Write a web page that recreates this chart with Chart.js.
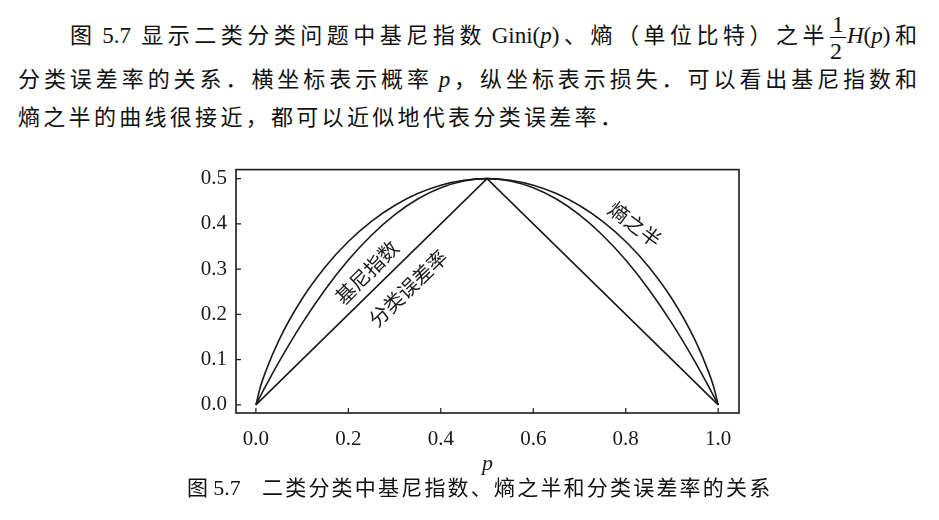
<!DOCTYPE html>
<html>
<head>
<meta charset="utf-8">
<script src="https://cdn.jsdelivr.net/npm/chart.js@4.4.1/dist/chart.umd.min.js"></script>
<style>
  body { margin: 0; background: #fff; width: 939px; height: 520px; overflow: hidden; position: relative; }
  .txt { position: absolute; font-family: "Liberation Serif", "Noto Sans CJK SC", serif; font-size: 22px; color: #111; white-space: nowrap; }
  .just { text-align: justify; text-align-last: justify; text-justify: inter-character; }
  .lat { display: inline-block; font-size: 23px; }
  .frac { display: inline-block; vertical-align: middle; text-align: center; line-height: 1; font-size: 24px; margin: 0 1px; }
  .frac span { display: block; }
  .frac .num { border-bottom: 1.5px solid #111; padding: 0 2px 1px; }
  .frac .den { padding-top: 1px; }
  #wrap { position: absolute; left: 160px; top: 148px; width: 600px; height: 347px; }
</style>
</head>
<body>
<div class="txt just" style="left:70px; top:12px; width:847px; line-height:40px;">图<span class="lat">&nbsp;5.7&nbsp;</span>显示二类分类问题中基尼指数<span class="lat">&nbsp;Gini(<i>p</i>)</span>、熵（单位比特）之半<span class="frac"><span class="num">1</span><span class="den">2</span></span><span class="lat"><i>H</i>(<i>p</i>)</span>和</div>
<div class="txt just" style="left:18px; top:64px; width:899px; line-height:32px;">分类误差率的关系．横坐标表示概率<span class="lat">&nbsp;<i>p</i></span>，纵坐标表示损失．可以看出基尼指数和</div>
<div class="txt" style="left:18px; top:102px; line-height:32px; letter-spacing:3.3px;">熵之半的曲线很接近，都可以近似地代表分类误差率．</div>

<div id="wrap"><canvas id="lossChart"></canvas></div>

<div class="txt" style="left:187px; top:473px; line-height:30px; font-size:21px;">图 <span style="font-size:22px">5.7</span></div>
<div class="txt" style="left:262px; top:473px; line-height:30px; font-size:21px; letter-spacing:2.2px;">二类分类中基尼指数、熵之半和分类误差率的关系</div>

<script>
// values
const pGrid = [0, 0.01, 0.02, 0.05, 0.1, 0.15, 0.2, 0.25, 0.3, 0.35, 0.4, 0.45, 0.5,
               0.55, 0.6, 0.65, 0.7, 0.75, 0.8, 0.85, 0.9, 0.95, 0.98, 0.99, 1];
const giniValues = [0, 0.0198, 0.0392, 0.095, 0.18, 0.255, 0.32, 0.375, 0.42, 0.455, 0.48, 0.495, 0.5,
                    0.495, 0.48, 0.455, 0.42, 0.375, 0.32, 0.255, 0.18, 0.095, 0.0392, 0.0198, 0];
const halfEntropyValues = [0, 0.0404, 0.0707, 0.1432, 0.2345, 0.3049, 0.361, 0.4056, 0.4406, 0.467, 0.4855, 0.4964, 0.5,
                           0.4964, 0.4855, 0.467, 0.4406, 0.4056, 0.361, 0.3049, 0.2345, 0.1432, 0.0707, 0.0404, 0];
const errorP = [0, 0.5, 1];
const errorValues = [0, 0.5, 0];
const xTicks = [0, 0.2, 0.4, 0.6, 0.8, 1.0];
const yTicks = [0, 0.1, 0.2, 0.3, 0.4, 0.5];
const curveNames = ['基尼指数', '分类误差率', '熵之半'];

// where the curve names sit (data coords) and their slant
const nameSpots = [
  { x: 0.24, y: 0.293, angle: -45 },
  { x: 0.329, y: 0.258, angle: -44 },
  { x: 0.82, y: 0.399, angle: 37 }
];

const toPoints = (xs, ys) => xs.map((x, i) => ({ x: x, y: ys[i] }));
const ink = '#1a1a1a';
const serif = '"Liberation Serif", "Times New Roman", serif';

const lineStyle = {
  borderColor: ink,
  borderWidth: 1.6,
  pointRadius: 0,
  fill: false
};

const framePlugin = {
  id: 'frame',
  afterDraw(chart) {
    const ctx = chart.ctx;
    const a = chart.chartArea;
    const xs = chart.scales.x, ys = chart.scales.y;
    ctx.save();
    ctx.strokeStyle = ink;
    ctx.lineWidth = 1.6;
    ctx.strokeRect(a.left, a.top, a.right - a.left, a.bottom - a.top);
    ctx.lineWidth = 1.2;
    ctx.beginPath();
    xs.ticks.forEach(t => {
      const px = xs.getPixelForValue(t.value);
      ctx.moveTo(px, a.bottom);
      ctx.lineTo(px, a.bottom - 5);
    });
    ys.ticks.forEach(t => {
      const py = ys.getPixelForValue(t.value);
      ctx.moveTo(a.left, py);
      ctx.lineTo(a.left + 5, py);
    });
    ctx.stroke();

    ctx.fillStyle = ink;
    ctx.font = '20px "Noto Sans CJK SC", sans-serif';
    ctx.textAlign = 'center';
    ctx.textBaseline = 'middle';
    curveNames.forEach((name, i) => {
      const s = nameSpots[i];
      ctx.save();
      ctx.translate(xs.getPixelForValue(s.x), ys.getPixelForValue(s.y));
      ctx.rotate(s.angle * Math.PI / 180);
      ctx.fillText(name, 0, 0);
      ctx.restore();
    });
    ctx.restore();
  }
};

const ctx = document.getElementById('lossChart').getContext('2d');
new Chart(ctx, {
  type: 'line',
  data: {
    datasets: [
      Object.assign({ label: 'Gini', data: toPoints(pGrid, giniValues), cubicInterpolationMode: 'monotone' }, lineStyle),
      Object.assign({ label: 'H/2', data: toPoints(pGrid, halfEntropyValues), cubicInterpolationMode: 'monotone' }, lineStyle),
      Object.assign({ label: 'error', data: toPoints(errorP, errorValues), tension: 0 }, lineStyle)
    ]
  },
  options: {
    responsive: true,
    maintainAspectRatio: false,
    animation: false,
    layout: { padding: { top: 0, right: 21, left: 0, bottom: 0 } },
    plugins: {
      legend: { display: false },
      tooltip: { enabled: false }
    },
    scales: {
      x: {
        type: 'linear',
        min: -0.043,
        max: 1.045,
        afterBuildTicks: s => { s.ticks = xTicks.map(v => ({ value: v })); },
        afterFit: s => { s.height = 82; },
        grid: { display: false, drawTicks: false },
        border: { display: false },
        ticks: {
          padding: 14,
          color: ink,
          font: { family: serif, size: 21 },
          callback: v => Number(v).toFixed(1)
        },
        title: {
          display: true,
          text: 'p',
          color: ink,
          font: { family: serif, size: 22, style: 'italic' },
          padding: { top: 0, bottom: 18 }
        }
      },
      y: {
        min: -0.018,
        max: 0.52,
        afterBuildTicks: s => { s.ticks = yTicks.map(v => ({ value: v })); },
        afterFit: s => { s.width = 76; },
        grid: { display: false, drawTicks: false },
        border: { display: false },
        ticks: {
          padding: 9,
          color: ink,
          font: { family: serif, size: 21 },
          callback: v => Number(v).toFixed(1)
        }
      }
    }
  },
  plugins: [framePlugin]
});
</script>
</body>
</html>
